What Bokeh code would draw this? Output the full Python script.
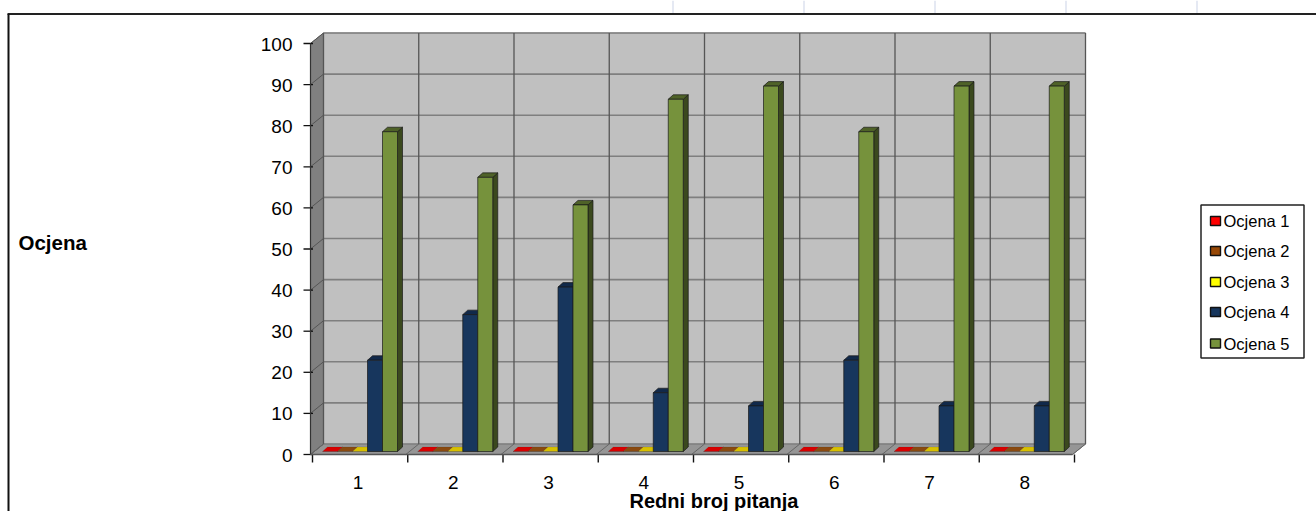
from bokeh.plotting import figure
from bokeh.embed import file_html
from bokeh.resources import INLINE
from bokeh.models import Range1d
from bokeh.core.properties import value

categories = ["1", "2", "3", "4", "5", "6", "7", "8"]
ocjena_1 = [0, 0, 0, 0, 0, 0, 0, 0]
ocjena_2 = [0, 0, 0, 0, 0, 0, 0, 0]
ocjena_3 = [0, 0, 0, 0, 0, 0, 0, 0]
ocjena_4 = [22.2, 33.3, 40.0, 14.3, 11.1, 22.2, 11.1, 11.1]
ocjena_5 = [77.8, 66.7, 60.0, 85.7, 88.9, 77.8, 88.9, 88.9]
series_names = ["Ocjena 1", "Ocjena 2", "Ocjena 3", "Ocjena 4", "Ocjena 5"]
y_ticks = list(range(0, 101, 10))

FRONT = ["#FF0000", "#974806", "#FFFF00", "#17365D", "#76923C"]
SIDE = ["#800000", "#4B2403", "#808000", "#0C1B2F", "#3B491E"]
TOP = ["#D80000", "#8A4A10", "#D8C000", "#11294A", "#4F6228"]
EDGE_ALPHA = [0.15, 0.15, 0.15, 1, 1]
FONT = "Liberation Sans"

W, H = 1316, 511
X0, X8 = 310.0, 1072.0   # page pixel of category-axis start / end
Y0, Y100 = 454.0, 43.0   # page pixel of value 0 / 100
px_x = (X8 - X0) / 8
px_y = (Y0 - Y100) / 100

x_range = Range1d(-X0 / px_x, (W - X0) / px_x)
y_range = Range1d(-(H - Y0) / px_y, Y0 / px_y)
dx = lambda v: v / px_x
dy = lambda v: v / px_y
page_x = lambda v: (v - X0) / px_x
page_y = lambda v: (Y0 - v) / px_y

p = figure(width=W, height=H, x_range=x_range, y_range=y_range, output_backend="svg",
           toolbar_location=None, min_border=0, outline_line_color=None,
           background_fill_color="white", border_fill_color="white",
           x_axis_type=None, y_axis_type=None)
p.grid.visible = False
n = len(categories)
depth_x, depth_y = dx(13), dy(10.5)

# sheet border and spreadsheet grid above it
for x in [672.5, 803.5, 934.5, 1065.5, 1196.5]:
    p.segment(page_x(x), page_y(13), page_x(x), page_y(0), line_color="#DDE2EF", line_width=1.5)
p.segment(page_x(7), page_y(13.5), x_range.end, page_y(13.5), line_color="#222222", line_width=2)
p.segment(page_x(8), page_y(13.5), page_x(8), y_range.start, line_color="#111111", line_width=2)

# walls
p.patch([0, depth_x, depth_x, 0], [0, depth_y, 100 + depth_y, 100], fill_color="#808080", line_color="#6E6E6E")
p.patch([0, n, n + depth_x, depth_x], [0, 0, depth_y, depth_y], fill_color="#969696", line_color="#777777")
p.quad(left=depth_x, right=n + depth_x, bottom=depth_y, top=100 + depth_y, fill_color="#C0C0C0", line_color="#A0A0A0")

# gridlines on the walls and floor
for t in y_ticks:
    p.segment(depth_x, t + depth_y, n + depth_x, t + depth_y, line_color="#7F7F7F", line_width=1.6)
    p.segment(0, t, depth_x, t + depth_y, line_color="#555555", line_width=1)
    p.segment(dx(-7), t, dx(2.5), t, line_color="#111111", line_width=1.3)
for i in range(n + 1):
    p.segment(i + depth_x, depth_y, i + depth_x, 100 + depth_y, line_color="#555555", line_width=1.3)
    p.segment(i, 0, i + depth_x, depth_y, line_color="#666666", line_width=1)
    p.segment(i + dx(2), 0, i + dx(2), dy(-8), line_color="#111111", line_width=1.4)
p.segment(0, 0, 0, 100, line_color="#333333", line_width=1.2)
p.segment(0, 0, n, 0, line_color="#555555", line_width=1.4)

# bars
bar_w = dx(15)
bar_off = dx(12)
shift_y = dy(3)
b_dx, b_dy = dx(5), dy(4.5)
series = [ocjena_1, ocjena_2, ocjena_3, ocjena_4, ocjena_5]
for s, vals in enumerate(series):
    lefts = [i + bar_off + s * bar_w for i in range(n)]
    rights = [l + bar_w for l in lefts]
    tops = [v + shift_y for v in vals]
    edge = dict(line_color="#1A1A1A", line_width=0.7, line_alpha=EDGE_ALPHA[s])
    p.patches([[r, r + b_dx, r + b_dx, r] for r in rights],
              [[shift_y, shift_y + b_dy, v + b_dy, v] for v in tops],
              fill_color=SIDE[s], **edge)
    p.patches([[l, r, r + b_dx, l + b_dx] for l, r in zip(lefts, rights)],
              [[v, v, v + b_dy, v + b_dy] for v in tops],
              fill_color=TOP[s], **edge)
    p.quad(left=lefts, right=rights, bottom=shift_y, top=tops, fill_color=FRONT[s], **edge)

# axis texts
p.text([page_x(292)] * len(y_ticks), [t - dy(0.5) for t in y_ticks], text=[str(t) for t in y_ticks],
       text_align="right", text_baseline="middle", text_font=value(FONT), text_font_size="19px",
       text_color="#000000")
p.text([i + 0.5 for i in range(n)], [page_y(482)] * n, text=categories, text_align="center",
       text_baseline="middle", text_font=value(FONT), text_font_size="19px", text_color="#000000")
p.text([page_x(713.5)], [page_y(511)], text=["Redni broj pitanja"], text_align="center",
       text_baseline="bottom", text_font=value(FONT), text_font_style="bold",
       text_font_size="20px", text_color="#000000")
p.text([page_x(18)], [page_y(242)], text=["Ocjena"], text_align="left",
       text_baseline="middle", text_font=value(FONT), text_font_style="bold",
       text_font_size="20.5px", text_color="#000000")

# legend
p.quad(left=page_x(1200.5), right=page_x(1303.5), bottom=page_y(357.5), top=page_y(204.5),
       fill_color="white", line_color="#222222", line_width=1.5)
rows = [220.5, 250.5, 281.5, 311.5, 343]
for s, name in enumerate(series_names):
    yc = page_y(rows[s])
    p.quad(left=page_x(1210), right=page_x(1220), bottom=yc - dy(4.5), top=yc + dy(4.5),
           fill_color=FRONT[s], line_color="#111111", line_width=1.4)
    p.text([page_x(1223)], [yc], text=[name], text_baseline="middle", text_font=value(FONT),
           text_font_size="16.5px", text_color="#000000")

open("out.html", "w").write(file_html(p, INLINE))
